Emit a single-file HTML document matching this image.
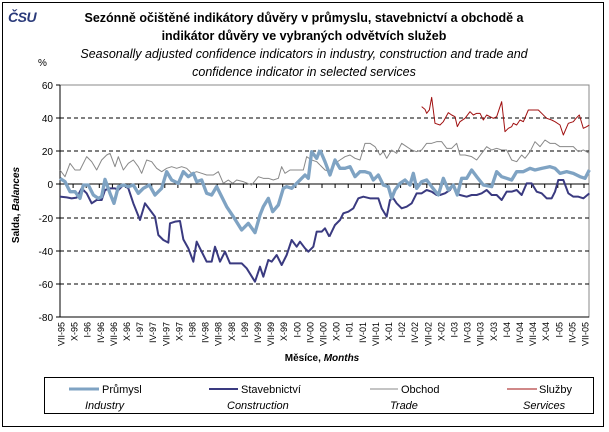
<!DOCTYPE html>
<html><head><meta charset="utf-8"><style>
body{margin:0;background:#fff;}
svg{display:block;font-family:"Liberation Sans",Arial,sans-serif;}
</style></head><body>
<svg width="609" height="432" viewBox="0 0 609 432" xmlns="http://www.w3.org/2000/svg">
<rect x="0" y="0" width="609" height="432" fill="#fff"/>
<rect x="2.5" y="2.5" width="601" height="424" fill="none" stroke="#000" stroke-width="1"/>
<text x="8" y="22" font-size="14" font-weight="bold" font-style="italic" fill="#2a3a7a" letter-spacing="-0.5">ČSU</text>
<g text-anchor="middle" fill="#000">
<text x="304" y="22" font-size="12.5" font-weight="bold">Sezónně očištěné indikátory důvěry v průmyslu, stavebnictví a obchodě a</text>
<text x="304" y="40" font-size="12.5" font-weight="bold">indikátor důvěry ve vybraných odvětvích služeb</text>
<text x="304" y="58" font-size="12.5" font-style="italic">Seasonally adjusted confidence indicators in industry, construction and trade and</text>
<text x="304" y="76" font-size="12.5" font-style="italic">confidence indicator in selected services</text>
</g>
<text x="38" y="66" font-size="10">%</text>
<rect x="60" y="85" width="529" height="232" fill="none" stroke="#888" stroke-width="1"/>
<g stroke="#000" stroke-width="1" stroke-dasharray="4,3">
<line x1="60" y1="118" x2="589" y2="118"/>
<line x1="60" y1="151" x2="589" y2="151"/>
<line x1="60" y1="218" x2="589" y2="218"/>
<line x1="60" y1="251" x2="589" y2="251"/>
<line x1="60" y1="284" x2="589" y2="284"/>
</g>
<line x1="60" y1="317" x2="589" y2="317" stroke="#000"/>
<line x1="60" y1="184" x2="589" y2="184" stroke="#000"/>
<line x1="60" y1="85" x2="60" y2="317" stroke="#000"/>
<g stroke="#000">
<line x1="56" y1="85" x2="60" y2="85"/><line x1="56" y1="118" x2="60" y2="118"/><line x1="56" y1="151" x2="60" y2="151"/><line x1="56" y1="184" x2="60" y2="184"/><line x1="56" y1="218" x2="60" y2="218"/><line x1="56" y1="251" x2="60" y2="251"/><line x1="56" y1="284" x2="60" y2="284"/><line x1="56" y1="317" x2="60" y2="317"/>
</g>
<g font-size="10" text-anchor="end" fill="#000">
<text x="53" y="89">60</text><text x="53" y="122">40</text><text x="53" y="155">20</text><text x="53" y="188">0</text><text x="53" y="222">-20</text><text x="53" y="255">-40</text><text x="53" y="288">-60</text><text x="53" y="321">-80</text>
</g>
<text transform="translate(19,205) rotate(-90)" font-size="10" font-weight="bold" text-anchor="middle">Salda, <tspan font-style="italic">Balances</tspan></text>
<g stroke="#000" id="ticks"></g>
<g font-size="9" fill="#000" id="xl"></g>
<text x="322" y="361" font-size="10" font-weight="bold" text-anchor="middle">Měsíce, <tspan font-style="italic">Months</tspan></text>

<g transform="translate(50,80) scale(0.33333)" fill="none" stroke-linejoin="round">
<polyline stroke="#888" stroke-width="3" points="30,270 45,290 60,250 75,270 90,270 110,230 125,245 140,270 155,240 170,225 180,220 195,260 205,230 220,270 235,250 250,240 265,260 275,280 290,240 305,245 320,265 335,275 350,265 365,260 380,265 395,260 410,265 425,280 440,275 455,280 470,285 490,285 505,275 520,310 535,300 548,310 560,300 580,305 605,315 625,290 640,295 655,295 670,300 685,295 695,260 705,280 720,270 740,270 760,270 770,230 785,240 800,245 810,255"/>
<polyline stroke="#3a3a80" stroke-width="6" points="30,350 50,352 65,355 80,353 95,325 110,340 125,370 140,360 155,360 165,330 180,325 195,325 205,330 220,315 235,325 250,370 270,420 285,370 300,390 315,410 325,465 340,480 355,488 360,430 375,425 390,423 400,478 415,505 430,545 440,485 455,515 470,545 485,545 495,500 510,545 525,515 540,550 555,550 575,550 590,565 615,605 630,560 640,590 655,540 665,545 680,525 695,555 710,525 725,480 740,500 750,485 765,505 775,515 790,500 800,455 815,455 825,445 838,470"/>
<polyline stroke="#7fa3c3" stroke-width="10" points="30,295 45,305 60,335 75,335 90,355 100,315 115,315 130,345 145,355 155,350 165,298 180,340 192,370 205,320 220,315 235,320 250,315 265,340 280,325 298,315 315,345 335,325 350,275 365,300 385,310 400,275 415,290 430,280 440,305 455,300 470,340 485,345 500,320 515,350 530,380 550,410 575,450 595,430 615,458 630,405 640,380 655,355 668,395 685,375 700,325 710,320 725,325 745,305 765,285 775,295 785,215 800,235 810,210"/>
</g>
<g transform="translate(320,80) scale(0.33333)" fill="none" stroke-linejoin="round">
<polyline stroke="#888" stroke-width="3" points="0,255 15,270 30,275 45,250 60,240 75,230 90,225 105,235 120,240 135,190 150,190 165,200 180,225 190,215 200,235 215,210 230,220 245,190 260,200 275,210 290,215 305,210 320,190 335,190 350,185 365,185 380,205 395,205 410,190 420,225 435,225 455,230 470,240 485,220 500,200 515,210 530,205 545,210 560,210 575,240 590,245 605,225 615,235 630,215 645,185 660,200 675,180 690,190 705,190 720,200 740,200 760,200 775,215 790,210 808,220"/>
<polyline stroke="#3a3a80" stroke-width="6" points="28,470 45,435 60,420 70,400 85,395 100,385 115,355 130,350 150,355 175,355 185,385 200,410 210,360 220,355 230,370 245,385 260,380 275,370 290,340 305,340 320,330 335,335 350,345 360,345 375,340 390,330 400,315 410,340 420,345 440,350 455,345 470,345 485,340 500,330 515,345 530,345 545,360 560,335 575,335 590,330 605,345 620,310 635,310 650,335 665,340 680,355 695,355 705,335 715,300 730,300 745,340 760,350 775,350 790,355 808,340"/>
<polyline stroke="#7fa3c3" stroke-width="10" points="0,210 15,245 30,285 45,240 60,265 75,265 90,260 105,290 120,275 135,275 150,280 160,300 175,285 190,315 205,320 215,355 225,330 240,310 255,300 270,315 280,280 290,325 305,305 320,300 335,320 355,345 370,295 385,330 400,315 412,345 425,295 440,295 455,270 470,290 490,315 515,320 530,275 545,290 560,295 575,300 590,275 610,275 630,265 645,270 665,265 690,260 705,265 720,280 740,275 760,280 780,290 795,295 808,270"/>
<polyline stroke="#a01010" stroke-width="3" points="305,80 315,88 320,100 328,90 335,52 345,130 360,135 370,125 385,98 395,105 405,110 412,140 420,125 435,115 450,95 460,105 470,100 480,100 490,120 500,105 510,110 520,115 530,110 545,65 555,155 565,145 575,140 580,130 590,135 600,120 610,125 625,90 640,90 655,90 665,100 680,115 695,120 705,125 720,135 730,165 745,130 760,125 768,115 778,105 790,145 800,140 808,135"/>
</g>

<rect x="44.5" y="377.5" width="549" height="36" fill="#fff" stroke="#000" stroke-width="1"/>
<g font-size="11" fill="#000">
<line x1="69" y1="389" x2="99" y2="389" stroke="#7fa3c3" stroke-width="3"/>
<text x="102" y="393">Průmysl</text><text x="85" y="409" font-style="italic">Industry</text>
<line x1="209" y1="389" x2="238" y2="389" stroke="#3a3a80" stroke-width="2"/>
<text x="241" y="393">Stavebnictví</text><text x="227" y="409" font-style="italic">Construction</text>
<line x1="370" y1="389" x2="398" y2="389" stroke="#888" stroke-width="1"/>
<text x="401" y="393">Obchod</text><text x="390" y="409" font-style="italic">Trade</text>
<line x1="507" y1="389" x2="537" y2="389" stroke="#a01010" stroke-width="1"/>
<text x="539" y="393">Služby</text><text x="523" y="409" font-style="italic">Services</text>
</g>
<script>
var m=["VII","X","I","IV"],t=document.getElementById("ticks"),xl=document.getElementById("xl"),ns="http://www.w3.org/2000/svg";
for(var i=0;i<41;i++){var x=60+13.1*i+1.5;var y=95+Math.floor((i+2)/4);var lab=m[i%4]+"-"+String(y%100).padStart(2,"0");
var tx=document.createElementNS(ns,"text");tx.setAttribute("transform","translate("+(x+3)+",322) rotate(-90)");tx.setAttribute("text-anchor","end");tx.textContent=lab;xl.appendChild(tx);
var l=document.createElementNS(ns,"line");var lx=60+13.1*i;l.setAttribute("x1",lx);l.setAttribute("x2",lx);l.setAttribute("y1",184);l.setAttribute("y2",188);t.appendChild(l);}
</script>
</svg>
</body></html>
